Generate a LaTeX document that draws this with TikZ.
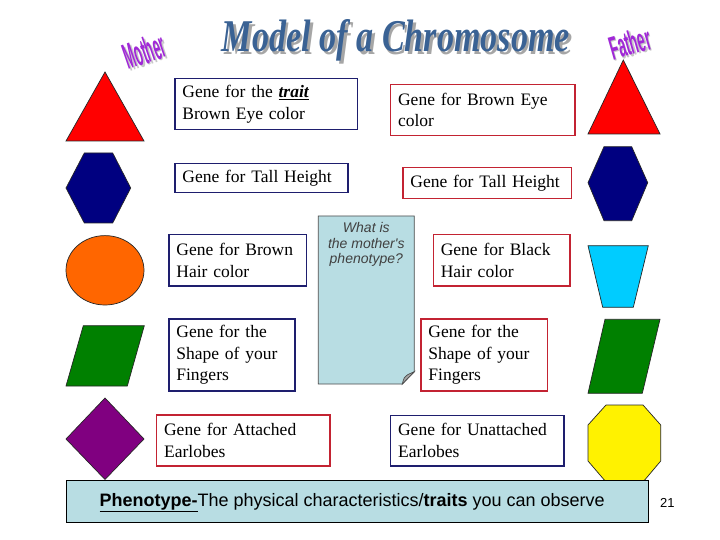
\documentclass[tikz,border=0pt]{standalone}
\usepackage{fontspec}
\setmainfont{Liberation Serif}
\newfontfamily\arialf{Liberation Sans}
\usepackage{graphicx}
\definecolor{navyb}{RGB}{30,30,110}
\definecolor{redb}{RGB}{195,35,50}
\definecolor{notefill}{RGB}{184,221,227}
\definecolor{titleblue}{RGB}{58,98,148}
\definecolor{wordpurple}{RGB}{160,40,215}
\definecolor{shapeorange}{RGB}{255,102,0}
\definecolor{shapegreen}{RGB}{0,128,0}
\definecolor{shapepurple}{RGB}{128,0,128}
\definecolor{shapenavy}{RGB}{0,0,128}
\definecolor{shapesky}{RGB}{0,204,255}
\begin{document}
\begin{tikzpicture}[x=1pt,y=-1pt,
  gene/.style={draw, line width=1.2pt, fill=white, rectangle, anchor=north west,
    inner xsep=7.5pt, inner ysep=0pt, align=left,
    font=\fontsize{17.5}{21.5}\selectfont},
  mombox/.style={gene, draw=navyb},
  dadbox/.style={gene, draw=redb},
  shapeline/.style={draw=black!85, line width=0.7pt}]
\useasboundingbox (0,0) rectangle (720,540);
\fill[white] (0,0) rectangle (720,540);

% title
\node[anchor=base west, text=black!35, inner sep=0pt] (titleshadow) at (224.2,54.2)
  {\resizebox{348pt}{32pt}{\bfseries\itshape Model of a Chromosome}};
\node[anchor=base west, text=titleblue, inner sep=0pt] (title) at (221.7,51.7)
  {\resizebox{348pt}{32pt}{\bfseries\itshape Model of a Chromosome}};

% Mother / Father
\node[rotate=19, text=black!22, inner sep=0pt] (mothershadow) at (146,52.5)
  {\resizebox{42pt}{26pt}{\arialf\bfseries Mother}};
\node[rotate=19, text=wordpurple, inner sep=0pt] (mother) at (144.5,51)
  {\resizebox{42pt}{26pt}{\arialf\bfseries Mother}};
\node[rotate=16, text=black!22, inner sep=0pt] (fathershadow) at (631.5,44.5)
  {\resizebox{42pt}{24pt}{\arialf\bfseries Father}};
\node[rotate=16, text=wordpurple, inner sep=0pt] (father) at (630,43)
  {\resizebox{42pt}{24pt}{\arialf\bfseries Father}};

% mother shapes
\path[shapeline, fill=red] (105,72) -- (144,141) -- (66,141) -- cycle;
\path[shapeline, fill=shapenavy] (84.3,153) -- (112.7,153) -- (130.7,188) -- (112.7,223) -- (84.3,223) -- (66,188) -- cycle;
\path[shapeline, fill=shapeorange] (105,270.3) ellipse [x radius=39, y radius=34.7];
\path[shapeline, fill=shapegreen] (83.3,325.7) -- (144.3,325.7) -- (127.3,386) -- (66,386) -- cycle;
\path[shapeline, fill=shapepurple] (105,398) -- (144,439) -- (105,479.5) -- (66,439) -- cycle;

% father shapes
\path[shapeline, fill=red] (623.3,60) -- (660,134) -- (588,134) -- cycle;
\path[shapeline, fill=shapenavy] (604,146.7) -- (631.7,146.7) -- (647.7,182.7) -- (631.7,220.7) -- (604,220.7) -- (588,182.7) -- cycle;
\path[shapeline, fill=shapesky] (588,245.7) -- (648.3,245.7) -- (633.3,307.3) -- (602.7,307.3) -- cycle;
\path[shapeline, fill=shapegreen] (605,319.3) -- (660,319.3) -- (642.3,393.3) -- (588,393.3) -- cycle;
\path[shapeline, fill=yellow] (606,405) -- (643,405) -- (660.7,425) -- (660.7,461) -- (643,482) -- (606,482) -- (588,461) -- (588,425) -- cycle;

% gene boxes, mother side
\node[mombox, text width=167.4pt, minimum height=51pt] (g1) at (174.3,78.3)
  {Gene for the \textbf{\textit{\underline{trait}}}\\Brown Eye color};
\node[mombox, text width=158pt, minimum height=29.3pt] (g3) at (174.3,162.7)
  {Gene for Tall Height};
\node[mombox, text width=122.4pt, minimum height=51.3pt] (g5) at (168.3,234)
  {Gene for Brown\\Hair color};
\node[mombox, text width=111pt, minimum height=72pt] (g7) at (168.3,318.3)
  {Gene for the\\Shape of your\\Fingers};
\node[dadbox, text width=158.3pt, minimum height=51pt] (g9) at (156,414.3)
  {Gene for Attached\\Earlobes};

% gene boxes, father side
\node[dadbox, text width=169.3pt, minimum height=51pt] (g2) at (390,84)
  {Gene for Brown Eye\\color};
\node[dadbox, text width=153.4pt, minimum height=31.6pt] (g4) at (402.3,166.7)
  {Gene for Tall Height};
\node[dadbox, text width=121.6pt, minimum height=51.3pt] (g6) at (432.7,234)
  {Gene for Black\\Hair color};
\node[dadbox, text width=111.4pt, minimum height=72pt] (g8) at (420.3,318.3)
  {Gene for the\\Shape of your\\Fingers};
\node[mombox, text width=158.3pt, minimum height=50.6pt] (g10) at (390,414.7)
  {Gene for Unattached\\Earlobes};

% note with folded corner
\path[draw=black!70, line width=0.8pt, fill=notefill]
  (318.3,216) -- (414.3,216) -- (414.3,371.7) -- (402.3,384) -- (318.3,384) -- cycle;
\path[draw=black!70, line width=0.7pt, fill=black!35]
  (402.3,384) .. controls (404,377.5) .. (408,374.5) -- (414.3,371.7) -- cycle;
\node[anchor=north, inner sep=0pt, align=center, text=black!75,
  font=\arialf\itshape\fontsize{14}{15.3}\selectfont] (note) at (366.3,222.5)
  {What is\\the mother's\\phenotype?};

% phenotype box
\node[draw=black, line width=1pt, fill=notefill, anchor=north west,
  minimum width=582pt, minimum height=42pt, inner sep=0pt] (pheno) at (66,480) {};
\node[anchor=base west, inner sep=0pt, font=\arialf\fontsize{18}{20}\selectfont] (phenotext) at (99.3,506)
  {\textbf{\underline{Phenotype-}}The physical characteristics/\textbf{traits} you can observe};
\node[anchor=base west, inner sep=0pt, font=\arialf\fontsize{13}{15}\selectfont] (pagenum) at (660,507)
  {21};
\end{tikzpicture}
\end{document}
